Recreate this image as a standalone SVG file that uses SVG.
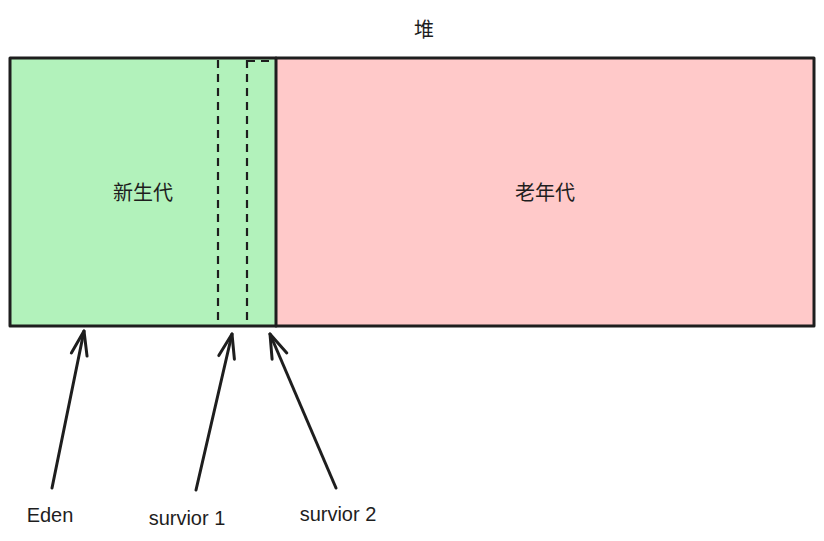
<svg xmlns="http://www.w3.org/2000/svg" width="824" height="541" viewBox="0 0 824 541">
<style>
.t{font-family:"Liberation Sans","Noto Sans CJK SC",sans-serif;font-size:20px;fill:#1e1e1e;text-anchor:middle}
.ln{stroke:#1e1e1e;stroke-width:3;fill:none;stroke-linecap:round;stroke-linejoin:round}
.dash{stroke:#1e1e1e;stroke-width:2.2;fill:none;stroke-dasharray:8 6}
</style>
<defs>
<marker id="ah" viewBox="0 0 30 20" refX="27" refY="10" markerWidth="30" markerHeight="20" markerUnits="userSpaceOnUse" orient="auto">
<path d="M3 2 L27 10 L3 18" fill="none" stroke="#1e1e1e" stroke-width="3" stroke-linecap="round" stroke-linejoin="round"/>
</marker>
</defs>
<rect width="824" height="541" fill="#ffffff"/>
<g id="heap-title"><text class="t" x="424" y="37">堆</text></g>
<g id="young">
<rect x="10" y="58" width="266" height="268" fill="#b2f2bb"/>
<text class="t" x="143" y="200">新生代</text>
</g>
<g id="old">
<rect x="276" y="58" width="538" height="268" fill="#ffc9c9"/>
<text class="t" x="545" y="200">老年代</text>
</g>
<g id="survivor1"><line class="dash" x1="218" y1="60" x2="218" y2="325"/></g>
<g id="survivor2">
<line class="dash" x1="247" y1="60" x2="247" y2="325"/>
<line class="dash" x1="247" y1="61" x2="276" y2="61"/>
<line class="ln" x1="276" y1="58" x2="276" y2="326"/>
</g>
<g id="heap"><rect class="ln" x="10" y="58" width="804" height="268"/></g>
<g id="connectors">
<line class="ln" x1="52" y1="488" x2="84" y2="331" marker-end="url(#ah)"/>
<line class="ln" x1="196" y1="490" x2="232" y2="334" marker-end="url(#ah)"/>
<line class="ln" x1="336" y1="488" x2="270" y2="334" marker-end="url(#ah)"/>
</g>
<g id="label-eden"><text class="t" x="50" y="522">Eden</text></g>
<g id="label-s1"><text class="t" x="187" y="525">survior 1</text></g>
<g id="label-s2"><text class="t" x="338" y="521">survior 2</text></g>
</svg>
